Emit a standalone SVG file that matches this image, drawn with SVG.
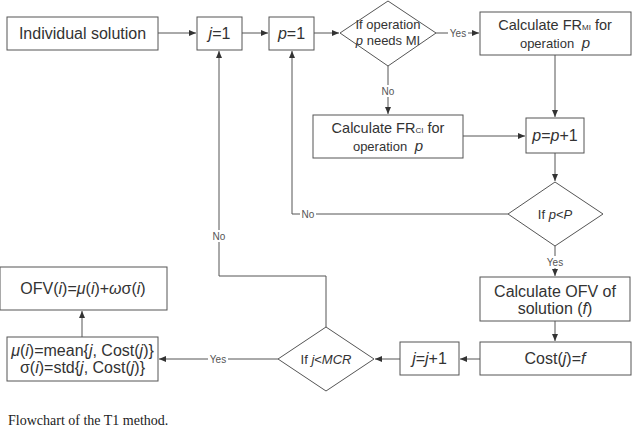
<svg xmlns="http://www.w3.org/2000/svg" width="635" height="437" viewBox="0 0 635 437">
<style>
.box{fill:#fff;stroke:#555;stroke-width:1}
.t{font-family:"Liberation Sans",Arial,sans-serif;fill:#333;text-anchor:middle}
.big{font-size:16px}
.mid{font-size:14.5px}
.sm{font-size:13px}
.lbl{font-family:"Liberation Sans",Arial,sans-serif;font-size:10px;fill:#555;text-anchor:middle}
.sub{font-size:8px}
.c{fill:none;stroke:#555;stroke-width:1}
.bg{fill:#fff}
</style>
<defs>
<marker id="ah" markerWidth="8" markerHeight="8" refX="7" refY="4" orient="auto" markerUnits="userSpaceOnUse">
<path d="M0,1 L7,4 L0,7 Z" fill="#333"/>
</marker>
</defs>
<rect width="635" height="437" fill="#fff"/>
<g id="connectors">
<path class="c" d="M158,33 H196" marker-end="url(#ah)"/>
<path class="c" d="M242,33 H268" marker-end="url(#ah)"/>
<path class="c" d="M314,33 H339" marker-end="url(#ah)"/>
<path class="c" d="M436,33 H479" marker-end="url(#ah)"/>
<path class="c" d="M388,66 V114" marker-end="url(#ah)"/>
<path class="c" d="M555,55 V117" marker-end="url(#ah)"/>
<path class="c" d="M463,136 H525" marker-end="url(#ah)"/>
<path class="c" d="M555,153 V181" marker-end="url(#ah)"/>
<path class="c" d="M508,214 H292 V51" marker-end="url(#ah)"/>
<path class="c" d="M555,246 V276" marker-end="url(#ah)"/>
<path class="c" d="M555,321 V341" marker-end="url(#ah)"/>
<path class="c" d="M480,359 H460" marker-end="url(#ah)"/>
<path class="c" d="M400,359 H375" marker-end="url(#ah)"/>
<path class="c" d="M278,359 H159" marker-end="url(#ah)"/>
<path class="c" d="M82,337 V311" marker-end="url(#ah)"/>
<path class="c" d="M326,327 V276 H219 V51" marker-end="url(#ah)"/>
<rect class="bg" x="448" y="27" width="20" height="12"/>
<text class="lbl" x="458" y="37">Yes</text>
<rect class="bg" x="380" y="85" width="16" height="12"/>
<text class="lbl" x="388" y="95">No</text>
<rect class="bg" x="300" y="208" width="16" height="12"/>
<text class="lbl" x="308" y="218">No</text>
<rect class="bg" x="545" y="256" width="20" height="12"/>
<text class="lbl" x="555" y="266">Yes</text>
<rect class="bg" x="208" y="353" width="20" height="12"/>
<text class="lbl" x="218" y="363">Yes</text>
<rect class="bg" x="211" y="230" width="16" height="12"/>
<text class="lbl" x="219" y="240">No</text>
</g>
<g id="n-individual">
<rect class="box" x="7" y="17" width="151" height="33"/>
<text class="t big" x="82.5" y="39">Individual solution</text>
</g>
<g id="n-j1">
<rect class="box" x="197" y="17" width="45" height="33"/>
<text class="t big" x="219.5" y="39"><tspan font-style="italic">j</tspan>=1</text>
</g>
<g id="n-p1">
<rect class="box" x="269" y="17" width="45" height="33"/>
<text class="t big" x="291.5" y="39"><tspan font-style="italic">p</tspan>=1</text>
</g>
<g id="n-needsmi">
<path class="box" d="M388,1 L436,33 L388,66 L340,33 Z"/>
<text class="t sm" x="388" y="29">If operation</text>
<text class="t sm" x="388" y="45"><tspan font-style="italic">p</tspan> needs MI</text>
</g>
<g id="n-frmi">
<rect class="box" x="480" y="12" width="151" height="43"/>
<text class="t mid" x="555" y="30">Calculate FR<tspan class="sub">MI</tspan> for</text>
<text class="t sm" x="555" y="48">operation <tspan dx="4" font-style="italic" font-size="15">p</tspan></text>
</g>
<g id="n-frci">
<rect class="box" x="313" y="115" width="150" height="43"/>
<text class="t mid" x="388" y="133">Calculate FR<tspan class="sub">CI</tspan> for</text>
<text class="t sm" x="388" y="151">operation <tspan dx="4" font-style="italic" font-size="15">p</tspan></text>
</g>
<g id="n-pinc">
<rect class="box" x="526" y="118" width="58" height="35"/>
<text class="t big" x="555" y="141"><tspan font-style="italic">p</tspan>=<tspan font-style="italic">p</tspan>+1</text>
</g>
<g id="n-pltP">
<path class="box" d="M555,182 L603,214 L555,246 L508,214 Z"/>
<text class="t sm" x="555" y="219">If <tspan font-style="italic">p</tspan>&lt;<tspan font-style="italic">P</tspan></text>
</g>
<g id="n-ofv-calc">
<rect class="box" x="480" y="277" width="150" height="44"/>
<text class="t big" x="555" y="297">Calculate OFV of</text>
<text class="t big" x="555" y="314">solution (<tspan font-style="italic">f</tspan>)</text>
</g>
<g id="n-cost">
<rect class="box" x="480" y="342" width="151" height="33"/>
<text class="t big" x="555" y="364">Cost(<tspan font-style="italic">j</tspan>)=<tspan font-style="italic">f</tspan></text>
</g>
<g id="n-jinc">
<rect class="box" x="400" y="342" width="59" height="33"/>
<text class="t big" x="429.5" y="364"><tspan font-style="italic">j</tspan>=<tspan font-style="italic">j</tspan>+1</text>
</g>
<g id="n-jltMCR">
<path class="box" d="M326,327 L374,359 L326,391 L278,359 Z"/>
<text class="t sm" x="326" y="364">If <tspan font-style="italic">j</tspan>&lt;<tspan font-style="italic">MCR</tspan></text>
</g>
<g id="n-mustd">
<rect class="box" x="7" y="337" width="151" height="44"/>
<text class="t big" x="82.5" y="356"><tspan font-style="italic">μ</tspan>(<tspan font-style="italic">i</tspan>)=mean{<tspan font-style="italic">j</tspan>, Cost(<tspan font-style="italic">j</tspan>)}</text>
<text class="t big" x="82.5" y="373">σ(<tspan font-style="italic">i</tspan>)=std{<tspan font-style="italic">j</tspan>, Cost(<tspan font-style="italic">j</tspan>)}</text>
</g>
<g id="n-ofv">
<rect class="box" x="0" y="267" width="167" height="43"/>
<text class="t big" x="83" y="294">OFV(<tspan font-style="italic">i</tspan>)=<tspan font-style="italic">μ</tspan>(<tspan font-style="italic">i</tspan>)+<tspan font-style="italic">ω</tspan>σ(<tspan font-style="italic">i</tspan>)</text>
</g>
<text x="8" y="425" font-family="Liberation Serif, 'Times New Roman', serif" font-size="14" fill="#222">Flowchart of the T1 method.</text>
</svg>
